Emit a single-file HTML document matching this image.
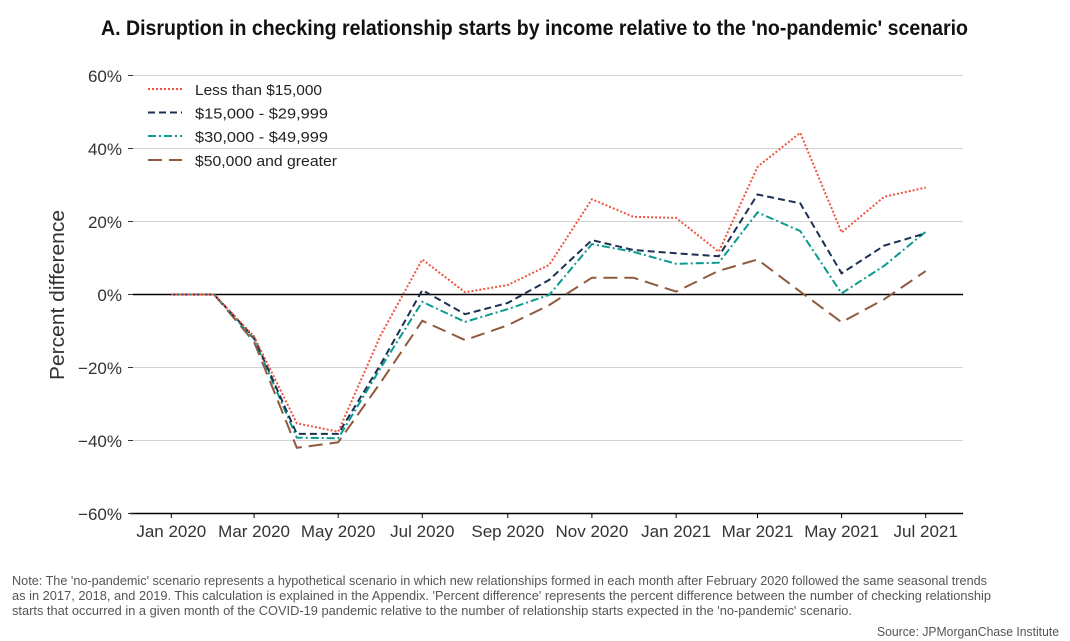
<!DOCTYPE html>
<html>
<head>
<meta charset="utf-8">
<style>
  html, body { margin: 0; padding: 0; background: #ffffff; }
  svg { display: block; }
  text { font-family: "Liberation Sans", "DejaVu Sans", sans-serif; }
</style>
</head>
<body>
<svg width="1070" height="641" viewBox="0 0 1070 641" xmlns="http://www.w3.org/2000/svg">
  <rect x="0" y="0" width="1070" height="641" fill="#ffffff"/>

  <!-- Title -->
  <text x="101" y="35" font-size="21" font-weight="bold" fill="#111" textLength="867" lengthAdjust="spacingAndGlyphs">A. Disruption in checking relationship starts by income relative to the 'no-pandemic' scenario</text>

  <!-- Gridlines -->
  <g stroke="#d3d3d3" stroke-width="1">
    <line x1="133" y1="75.5" x2="963" y2="75.5"/>
    <line x1="133" y1="148.5" x2="963" y2="148.5"/>
    <line x1="133" y1="221.5" x2="963" y2="221.5"/>
    <line x1="133" y1="367.5" x2="963" y2="367.5"/>
    <line x1="133" y1="440.5" x2="963" y2="440.5"/>
  </g>
  <!-- zero line -->
  <line x1="133" y1="294.5" x2="963" y2="294.5" stroke="#000" stroke-width="1.5"/>
  <!-- bottom axis -->
  <line x1="130" y1="513.5" x2="963" y2="513.5" stroke="#000" stroke-width="1.5"/>

  <!-- Y ticks -->
  <g stroke="#333" stroke-width="1">
    <line x1="128" y1="75.5" x2="133" y2="75.5"/>
    <line x1="128" y1="148.5" x2="133" y2="148.5"/>
    <line x1="128" y1="221.5" x2="133" y2="221.5"/>
    <line x1="128" y1="294.5" x2="133" y2="294.5"/>
    <line x1="128" y1="367.5" x2="133" y2="367.5"/>
    <line x1="128" y1="440.5" x2="133" y2="440.5"/>
    <line x1="128" y1="513.5" x2="133" y2="513.5"/>
  </g>

  <!-- Y labels -->
  <g font-size="17" fill="#333" text-anchor="end">
    <text x="122" y="82">60%</text>
    <text x="122" y="155">40%</text>
    <text x="122" y="228">20%</text>
    <text x="122" y="301">0%</text>
    <text x="122" y="374">−20%</text>
    <text x="122" y="447">−40%</text>
    <text x="122" y="520">−60%</text>
  </g>

  <!-- Y axis title -->
  <text transform="translate(64,295) rotate(-90)" font-size="20" fill="#333" text-anchor="middle" textLength="170" lengthAdjust="spacingAndGlyphs">Percent difference</text>

  <!-- X ticks -->
  <g stroke="#000" stroke-width="1">
    <line x1="171.3" y1="513.5" x2="171.3" y2="518"/>
    <line x1="254.1" y1="513.5" x2="254.1" y2="518"/>
    <line x1="338.2" y1="513.5" x2="338.2" y2="518"/>
    <line x1="422.3" y1="513.5" x2="422.3" y2="518"/>
    <line x1="507.8" y1="513.5" x2="507.8" y2="518"/>
    <line x1="591.9" y1="513.5" x2="591.9" y2="518"/>
    <line x1="676.1" y1="513.5" x2="676.1" y2="518"/>
    <line x1="757.5" y1="513.5" x2="757.5" y2="518"/>
    <line x1="841.6" y1="513.5" x2="841.6" y2="518"/>
    <line x1="925.7" y1="513.5" x2="925.7" y2="518"/>
  </g>

  <!-- X labels -->
  <g font-size="17" fill="#333" text-anchor="middle">
    <text x="171.3" y="537">Jan 2020</text>
    <text x="254.1" y="537">Mar 2020</text>
    <text x="338.2" y="537">May 2020</text>
    <text x="422.3" y="537">Jul 2020</text>
    <text x="507.8" y="537">Sep 2020</text>
    <text x="591.9" y="537">Nov 2020</text>
    <text x="676.1" y="537">Jan 2021</text>
    <text x="757.5" y="537">Mar 2021</text>
    <text x="841.6" y="537">May 2021</text>
    <text x="925.7" y="537">Jul 2021</text>
  </g>

  <!-- Series -->
  <g fill="none" stroke-width="2" stroke-linejoin="miter">
    <polyline stroke="#8e5a3b" stroke-dasharray="14 7"
      points="171.3,294.5 214.1,294.5 254.1,342.0 296.8,447.8 338.2,442.3 380.9,382.1 422.3,320.8 465.1,340.1 507.8,325.2 549.2,305.1 591.9,277.7 633.3,277.7 676.1,291.6 718.8,270.8 757.5,259.5 800.2,291.6 841.6,322.2 884.3,299.2 925.7,271.1"/>
    <polyline stroke="#0a9b8e" stroke-dasharray="8 3 2 3"
      points="171.3,294.5 214.1,294.5 254.1,339.0 296.8,437.6 338.2,438.3 380.9,367.5 422.3,301.8 465.1,321.9 507.8,309.1 549.2,294.9 591.9,244.1 633.3,251.8 676.1,263.8 718.8,262.7 757.5,212.4 800.2,231.0 841.6,293.4 884.3,265.7 925.7,231.7"/>
    <polyline stroke="#1d2f52" stroke-dasharray="7 4"
      points="171.3,294.5 214.1,294.5 254.1,337.6 296.8,433.9 338.2,433.9 380.9,363.9 422.3,290.1 465.1,314.2 507.8,302.9 549.2,279.9 591.9,240.1 633.3,250.0 676.1,253.3 718.8,256.2 757.5,194.5 800.2,203.3 841.6,273.3 884.3,245.6 925.7,233.2"/>
    <polyline stroke="#f0533e" stroke-dasharray="2 2"
      points="171.3,294.5 214.1,294.5 254.1,336.5 296.8,423.3 338.2,431.7 380.9,334.7 422.3,259.5 465.1,292.3 507.8,285.0 549.2,264.9 591.9,199.2 633.3,216.8 676.1,217.9 718.8,251.8 757.5,166.8 800.2,132.8 841.6,232.4 884.3,196.7 925.7,187.6"/>
  </g>

  <!-- Legend -->
  <g fill="none" stroke-width="2">
    <line x1="148" y1="89" x2="182" y2="89" stroke="#f0533e" stroke-dasharray="2 2"/>
    <line x1="148" y1="112.5" x2="182" y2="112.5" stroke="#1d2f52" stroke-dasharray="7 4"/>
    <line x1="148" y1="136" x2="182" y2="136" stroke="#0a9b8e" stroke-dasharray="8 3 2 3"/>
    <line x1="148" y1="160" x2="182" y2="160" stroke="#8e5a3b" stroke-dasharray="14 7"/>
  </g>
  <g font-size="15" fill="#222">
    <text x="195" y="95" textLength="127" lengthAdjust="spacingAndGlyphs">Less than $15,000</text>
    <text x="195" y="118.5" textLength="133" lengthAdjust="spacingAndGlyphs">$15,000 - $29,999</text>
    <text x="195" y="142" textLength="133" lengthAdjust="spacingAndGlyphs">$30,000 - $49,999</text>
    <text x="195" y="166" textLength="142" lengthAdjust="spacingAndGlyphs">$50,000 and greater</text>
  </g>

  <!-- Notes -->
  <g font-size="13" fill="#555">
    <text x="12" y="585" textLength="975" lengthAdjust="spacingAndGlyphs">Note: The 'no-pandemic' scenario represents a hypothetical scenario in which new relationships formed in each month after February 2020 followed the same seasonal trends</text>
    <text x="12" y="600" textLength="979" lengthAdjust="spacingAndGlyphs">as in 2017, 2018, and 2019. This calculation is explained in the Appendix. 'Percent difference' represents the percent difference between the number of checking relationship</text>
    <text x="12" y="615" textLength="840" lengthAdjust="spacingAndGlyphs">starts that occurred in a given month of the COVID-19 pandemic relative to the number of relationship starts expected in the 'no-pandemic' scenario.</text>
    <text x="877" y="636" textLength="182" lengthAdjust="spacingAndGlyphs">Source: JPMorganChase Institute</text>
  </g>
</svg>
</body>
</html>
